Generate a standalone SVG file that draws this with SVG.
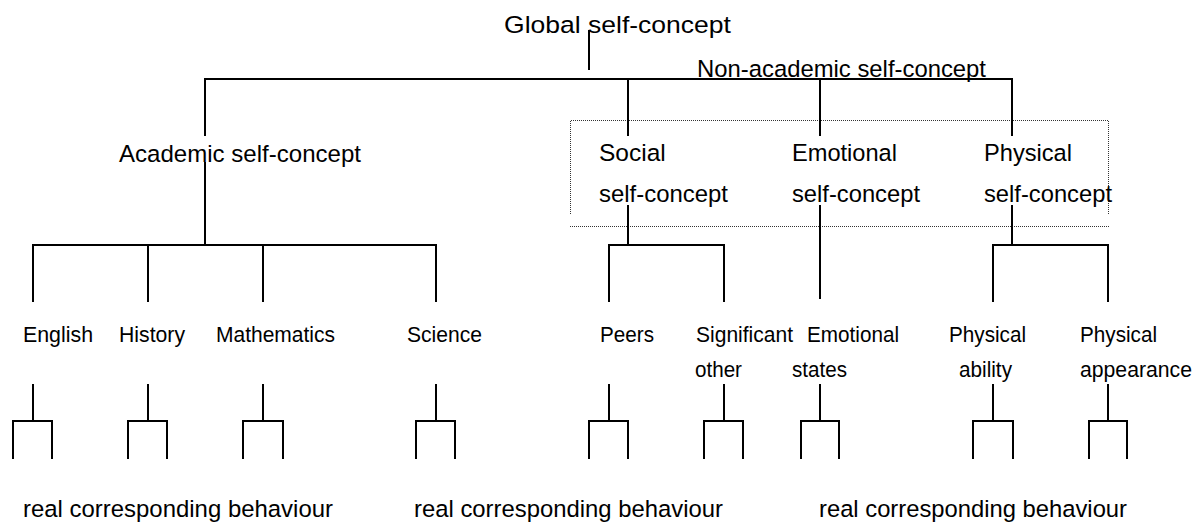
<svg xmlns="http://www.w3.org/2000/svg" width="1196" height="524" viewBox="0 0 1196 524">
<style>
  text { font-family: "Liberation Sans", Arial, sans-serif; fill: #000; }
  .big { font-size: 24.5px; }
  .small { font-size: 21.5px; }
  .ln { fill: none; stroke: #000; stroke-width: 2; stroke-linecap: butt; }
  .dot { fill: none; stroke: #333; stroke-width: 1; stroke-dasharray: 1 1; }
</style>
<rect width="1196" height="524" fill="#fff"/>

<g id="group-box">
  <path class="dot" d="M570.5 214 V120.5 H1108.5 V214"/>
  <path class="dot" d="M570 226.5 H1109"/>
</g>

<g id="connectors">
  <path class="ln" d="M589 30 V70"/>
  <path class="ln" d="M205 136 V79 H1012 V136"/>
  <path class="ln" d="M628 79 V136"/>
  <path class="ln" d="M820 79 V136"/>
  <path class="ln" d="M205 162 V245"/>
  <path class="ln" d="M33 302 V245 H436 V302"/>
  <path class="ln" d="M148 245 V302"/>
  <path class="ln" d="M263 245 V302"/>
  <path class="ln" d="M628 205 V245"/>
  <path class="ln" d="M609 302 V245 H724 V302"/>
  <path class="ln" d="M820 205 V299"/>
  <path class="ln" d="M1012 205 V245"/>
  <path class="ln" d="M993 302 V245 H1108 V302"/>
  <g id="leaf-brackets">
    <path class="ln" d="M33 384 V421 M13 459 V421 H52 V459"/>
    <path class="ln" d="M148 384 V421 M128 459 V421 H167 V459"/>
    <path class="ln" d="M263 384 V421 M243 459 V421 H283 V459"/>
    <path class="ln" d="M436 384 V421 M416 459 V421 H455 V459"/>
    <path class="ln" d="M609 384 V421 M589 459 V421 H628 V459"/>
    <path class="ln" d="M724 384 V421 M704 459 V421 H743 V459"/>
    <path class="ln" d="M820 384 V421 M801 459 V421 H839 V459"/>
    <path class="ln" d="M993 384 V421 M973 459 V421 H1013 V459"/>
    <path class="ln" d="M1108 384 V421 M1089 459 V421 H1127 V459"/>
  </g>
</g>

<g id="node-global"><text class="big" x="504" y="33" textLength="227" lengthAdjust="spacingAndGlyphs">Global self-concept</text></g>
<g id="node-nonacademic"><text class="big" x="697" y="77" textLength="289" lengthAdjust="spacingAndGlyphs">Non-academic self-concept</text></g>
<g id="node-academic"><text class="big" x="119" y="162" textLength="242" lengthAdjust="spacingAndGlyphs">Academic self-concept</text></g>
<g id="node-social"><text class="big" x="599" y="161">Social</text><text class="big" x="599" y="202" textLength="129" lengthAdjust="spacingAndGlyphs">self-concept</text></g>
<g id="node-emotional"><text class="big" x="792" y="161" textLength="105" lengthAdjust="spacingAndGlyphs">Emotional</text><text class="big" x="792" y="202" textLength="128" lengthAdjust="spacingAndGlyphs">self-concept</text></g>
<g id="node-physical"><text class="big" x="984" y="161" textLength="88" lengthAdjust="spacingAndGlyphs">Physical</text><text class="big" x="984" y="202" textLength="128" lengthAdjust="spacingAndGlyphs">self-concept</text></g>

<g id="node-english"><text class="small" x="23" y="342" textLength="70" lengthAdjust="spacingAndGlyphs">English</text></g>
<g id="node-history"><text class="small" x="119" y="342" textLength="66" lengthAdjust="spacingAndGlyphs">History</text></g>
<g id="node-mathematics"><text class="small" x="216" y="342" textLength="119" lengthAdjust="spacingAndGlyphs">Mathematics</text></g>
<g id="node-science"><text class="small" x="407" y="342" textLength="75" lengthAdjust="spacingAndGlyphs">Science</text></g>
<g id="node-peers"><text class="small" x="600" y="342" textLength="54" lengthAdjust="spacingAndGlyphs">Peers</text></g>
<g id="node-significant"><text class="small" x="696" y="342" textLength="97" lengthAdjust="spacingAndGlyphs">Significant</text><text class="small" x="695" y="377" textLength="47" lengthAdjust="spacingAndGlyphs">other</text></g>
<g id="node-emotional-states"><text class="small" x="807" y="342" textLength="92" lengthAdjust="spacingAndGlyphs">Emotional</text><text class="small" x="792" y="377" textLength="55" lengthAdjust="spacingAndGlyphs">states</text></g>
<g id="node-physical-ability"><text class="small" x="949" y="342" textLength="77" lengthAdjust="spacingAndGlyphs">Physical</text><text class="small" x="959" y="377" textLength="53" lengthAdjust="spacingAndGlyphs">ability</text></g>
<g id="node-physical-appearance"><text class="small" x="1080" y="342" textLength="77" lengthAdjust="spacingAndGlyphs">Physical</text><text class="small" x="1080" y="377" textLength="112" lengthAdjust="spacingAndGlyphs">appearance</text></g>

<g id="node-behaviour-1"><text class="big" x="23" y="517" textLength="310" lengthAdjust="spacingAndGlyphs">real corresponding behaviour</text></g>
<g id="node-behaviour-2"><text class="big" x="414" y="517" textLength="309" lengthAdjust="spacingAndGlyphs">real corresponding behaviour</text></g>
<g id="node-behaviour-3"><text class="big" x="819" y="517" textLength="308" lengthAdjust="spacingAndGlyphs">real corresponding behaviour</text></g>
</svg>
